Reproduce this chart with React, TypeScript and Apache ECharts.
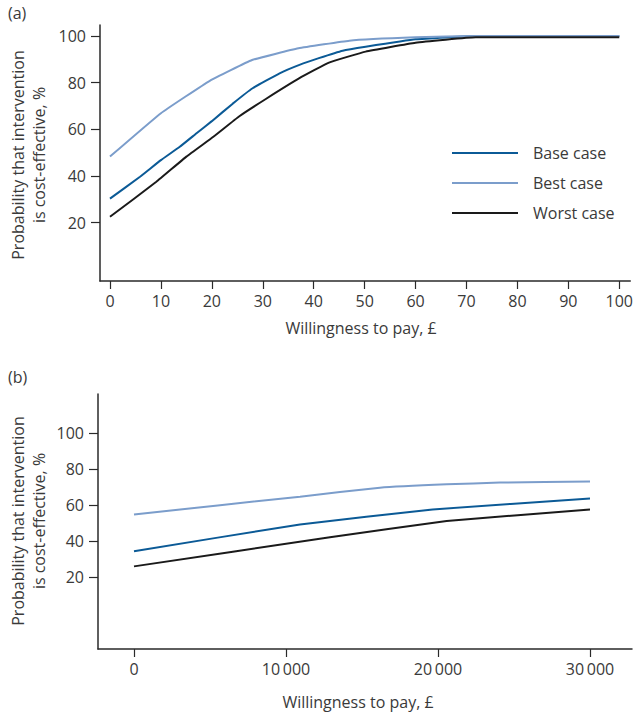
import React, { useEffect, useRef } from "react";
import * as echarts from "echarts";

const seriesNames = ["Base case", "Best case", "Worst case"];
const seriesColors = ["#0b5a96", "#7b9dcb", "#1a1a1a"];

// Panel (a): willingness to pay (£) vs probability (%)
const aBase: number[][] = [[0, 30.3], [5.9, 39.7], [10, 46.8], [13.7, 52.5], [17, 58.3], [20, 63.5], [24.1, 71], [28, 77.6], [33.3, 84], [37.2, 87.6], [41, 90.5], [45.7, 93.7], [50.2, 95.4], [60, 98.6], [72, 100], [100, 100]];
const aBest: number[][] = [[0, 48.3], [10, 66.9], [19.6, 80.8], [27.9, 89.7], [37, 94.7], [47, 98], [60, 99.4], [72, 100], [100, 100]];
const aWorst: number[][] = [[0, 22.5], [9.1, 37.5], [15, 48.3], [20.3, 56.8], [25.4, 65.6], [30.6, 73], [37.2, 81.9], [43, 88.6], [50.2, 93.3], [60, 97.1], [71.8, 99.4], [100, 99.4]];

// Panel (b)
const bBase: number[][] = [[0, 34.3], [10920, 49.2], [19650, 57.6], [30000, 63.6]];
const bBest: number[][] = [[0, 54.8], [10920, 64.7], [16180, 69.7], [20570, 71.6], [24080, 72.5], [30000, 73.1]];
const bWorst: number[][] = [[0, 25.9], [12890, 42.1], [20570, 51.1], [30000, 57.6]];

const aXTicks = [0, 10, 20, 30, 40, 50, 60, 70, 80, 90, 100];
const bXTicks = [0, 10000, 20000, 30000];
const yTicks = [20, 40, 60, 80, 100];

const FONT = "'Open Sans', sans-serif";
const TXT = "#3a3a3a";
const AX = "#2a2a2a";

export default function App() {
  const ref = useRef<HTMLDivElement>(null);
  useEffect(() => {
    if (!ref.current) return;
    const chart = echarts.init(ref.current, undefined, { renderer: "svg" });
    const axisLine = { show: true, lineStyle: { color: AX, width: 1.5 } };
    const label = { color: TXT, fontSize: 16, fontFamily: FONT };
    const xAxisCommon = (min: number, max: number, ticks: number[], fmt: (v: number) => string) => ({
      type: "value",
      min,
      max,
      axisLine: { ...axisLine, onZero: false },
      splitLine: { show: false },
      axisTick: { show: true, customValues: ticks, length: 8, lineStyle: { color: AX, width: 1.2 } },
      axisLabel: { ...label, customValues: ticks, margin: 12, formatter: fmt },
    });
    const yAxisCommon = (min: number, max: number) => ({
      type: "value",
      min,
      max,
      axisLine: { ...axisLine, onZero: false },
      splitLine: { show: false },
      axisTick: { show: true, customValues: yTicks, length: 9, lineStyle: { color: AX, width: 1.2 } },
      axisLabel: { ...label, customValues: yTicks, margin: 14 },
    });
    const fmtB = (v: number) => (v === 0 ? "0" : String(v / 1000) + "\u2009000");
    const mk = (name: string, data: number[][], idx: number, color: string) => ({
      name,
      type: "line",
      xAxisIndex: idx,
      yAxisIndex: idx,
      data,
      showSymbol: false,
      symbol: "none",
      smooth: 0.1,
      lineStyle: { color, width: 2 },
      itemStyle: { color },
    });
    const ylabel = "Probability that intervention\nis cost-effective, %";
    chart.setOption({
      animation: false,
      textStyle: { fontFamily: FONT },
      grid: [
        { left: 100, top: 25, width: 532, height: 256 },
        { left: 98, top: 394, width: 534, height: 255 },
      ],
      xAxis: [
        { ...xAxisCommon(-1.96, 102.15, aXTicks, (v: number) => String(v)), gridIndex: 0 },
        { ...xAxisCommon(-2368, 32763, bXTicks, fmtB), gridIndex: 1 },
      ],
      yAxis: [
        { ...yAxisCommon(-5.0, 104.7), gridIndex: 0 },
        { ...yAxisCommon(-20.06, 121.8), gridIndex: 1 },
      ],
      legend: {
        orient: "vertical",
        left: 452,
        top: 145,
        padding: 0,
        icon: "rect",
        itemWidth: 66,
        itemHeight: 2,
        itemGap: 14,
        data: seriesNames,
        textStyle: { color: TXT, fontSize: 16, fontFamily: FONT, padding: [0, 0, 0, 10] },
      },
      series: [
        mk(seriesNames[0], aBase, 0, seriesColors[0]),
        mk(seriesNames[1], aBest, 0, seriesColors[1]),
        mk(seriesNames[2], aWorst, 0, seriesColors[2]),
        mk(seriesNames[0], bBase, 1, seriesColors[0]),
        mk(seriesNames[1], bBest, 1, seriesColors[1]),
        mk(seriesNames[2], bWorst, 1, seriesColors[2]),
      ],
      graphic: [
        { type: "text", left: 8, top: 5, style: { text: "(a)", fill: TXT, font: `16px ${FONT}` } },
        { type: "text", left: 8, top: 369, style: { text: "(b)", fill: TXT, font: `16px ${FONT}` } },
        {
          type: "text", x: 28, y: 155, rotation: Math.PI / 2,
          style: { text: ylabel, fill: TXT, font: `16px ${FONT}`, align: "center", verticalAlign: "middle", lineHeight: 21 },
        },
        {
          type: "text", x: 28, y: 521, rotation: Math.PI / 2,
          style: { text: ylabel, fill: TXT, font: `16px ${FONT}`, align: "center", verticalAlign: "middle", lineHeight: 21 },
        },
        {
          type: "text", x: 361, y: 328,
          style: { text: "Willingness to pay, \u00a3", fill: TXT, font: `16px ${FONT}`, align: "center", verticalAlign: "middle" },
        },
        {
          type: "text", x: 358, y: 702,
          style: { text: "Willingness to pay, \u00a3", fill: TXT, font: `16px ${FONT}`, align: "center", verticalAlign: "middle" },
        },
      ],
    });
    return () => chart.dispose();
  }, []);
  return (
    <div
      ref={ref}
      style={{ position: "fixed", left: 0, top: 0, width: 636, height: 713, background: "#fff" }}
    />
  );
}
